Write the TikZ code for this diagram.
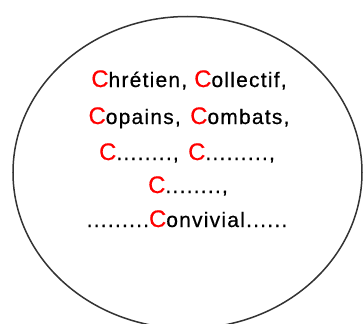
\documentclass[tikz,border=0pt]{standalone}
\usepackage{fontspec}
\setmainfont{Liberation Sans}[LetterSpace=6, FakeBold=0.6]
\usetikzlibrary{shapes.geometric}
\newcommand{\capC}{{\fontsize{24}{24}\selectfont\color{red}C}}
\tikzset{
  bubble/.style={draw=black!80, ellipse, line width=1.5bp, inner sep=0pt, minimum width=349bp, minimum height=312bp},
  verse/.style={anchor=base, inner sep=0pt, font=\fontsize{21}{21}\selectfont}
}
\begin{document}
\begin{tikzpicture}[x=1bp,y=1bp]
  \useasboundingbox (0,0) rectangle (363,324);
  % the bubble
  \node[bubble] (bubble) at (187.5,151.5) {};

  % the words
  \node[verse] (line1) at (189,237) {\capC hrétien, \capC ollectif,};
  \node[verse] (line2) at (189,200) {\capC opains,\hspace{0.45em}\capC ombats,};
  \node[verse] (line3) at (187,164) {\capC........,\hspace{0.45em}\capC.........,};
  \node[verse] (line4) at (188,131) {\capC........,};
  \node[verse] (line5) at (187,97) {.........\capC onvivial......};
\end{tikzpicture}
\end{document}
